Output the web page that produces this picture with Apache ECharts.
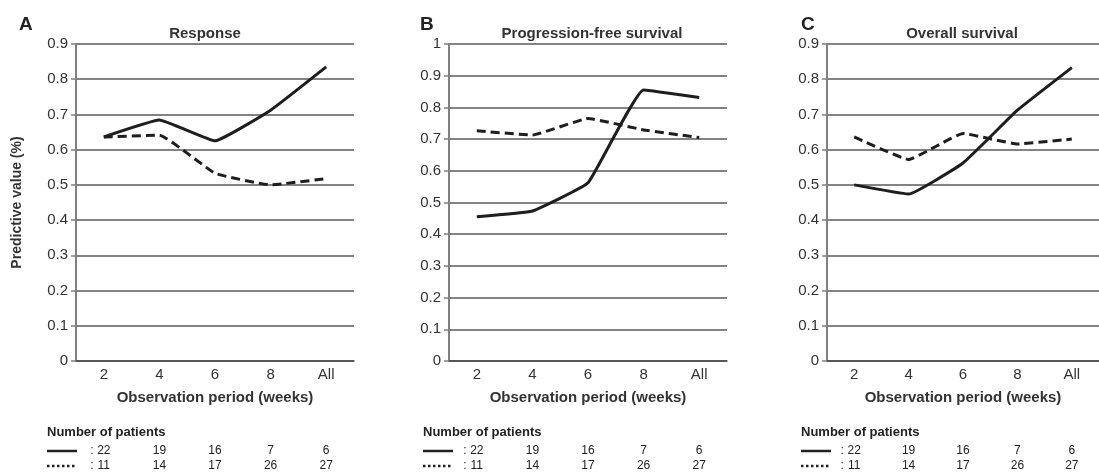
<!DOCTYPE html>
<html><head><meta charset="utf-8">
<script src="https://cdn.jsdelivr.net/npm/echarts@6/dist/echarts.min.js"></script>
<style>html,body{margin:0;padding:0;background:#fff}#c{width:1099px;height:475px}</style>
</head><body><div id="c"></div>
<script>
const categories = ['2', '4', '6', '8', 'All'];
const panelTitles = ['Response', 'Progression-free survival', 'Overall survival'];
const panelLetters = ['A', 'B', 'C'];
const yMax = [0.9, 1, 0.9];
const responseSolid = [0.636, 0.684, 0.625, 0.712, 0.835];
const responseDashed = [0.636, 0.641, 0.533, 0.500, 0.518];
const pfsSolid = [0.455, 0.473, 0.562, 0.855, 0.831];
const pfsDashed = [0.726, 0.713, 0.765, 0.729, 0.705];
const osSolid = [0.500, 0.474, 0.562, 0.712, 0.833];
const osDashed = [0.636, 0.572, 0.646, 0.616, 0.630];
const patientsSolid = [22, 19, 16, 7, 6];
const patientsDashed = [11, 14, 17, 26, 27];

const solidSets = [responseSolid, pfsSolid, osSolid];
const dashedSets = [responseDashed, pfsDashed, osDashed];

const gridLefts = [76, 449, 827];
const gridWidth = 278;
const titleCenters = [200, 587, 957];
const letterLefts = [14, 415, 796];
const tableLefts = [47, 423, 801];
const FONT = '"Liberation Sans", Arial, sans-serif';

const chart = echarts.init(document.getElementById('c'), null, {renderer: 'canvas'});
const grids = [], xAxes = [], yAxes = [], series = [], titles = [];
for (let i = 0; i < 3; i++) {
  const g = {left: gridLefts[i], top: 44, height: 317, containLabel: false};
  if (i === 2) g.right = -7; else g.width = gridWidth;
  grids.push(g);
  xAxes.push({
    type: 'category', gridIndex: i, data: categories, boundaryGap: true,
    axisLine: {show: true, lineStyle: {color: '#4a4a4a', width: 1.5}},
    axisTick: {show: false},
    axisLabel: {color: '#333', fontSize: 15, fontFamily: FONT, margin: 6},
    name: 'Observation period (weeks)', nameLocation: 'middle', nameGap: 29,
    nameTextStyle: {color: '#333', fontSize: 15, fontWeight: 'bold', fontFamily: FONT}
  });
  yAxes.push({
    type: 'value', gridIndex: i, min: 0, max: yMax[i], interval: 0.1,
    axisLine: {show: true, lineStyle: {color: '#808080', width: 2}},
    axisTick: {show: true, length: 5, lineStyle: {color: '#808080', width: 1.5}},
    axisLabel: {color: '#333', fontSize: 15, fontFamily: FONT, margin: 8,
      formatter: v => String(+v.toFixed(1))},
    splitLine: {show: true, lineStyle: {color: '#5a5a5a', width: 1.5}},
    name: i === 0 ? 'Predictive value (%)' : '', nameLocation: 'middle', nameGap: 52,
    nameTextStyle: {color: '#333', fontSize: 14, fontWeight: 'bold', fontFamily: FONT}
  });
  series.push({
    type: 'line', xAxisIndex: i, yAxisIndex: i, data: solidSets[i], symbol: 'none',
    smooth: 0.1, lineStyle: {color: '#1e1e1e', width: 3}, z: 3
  });
  series.push({
    type: 'line', xAxisIndex: i, yAxisIndex: i, data: dashedSets[i], symbol: 'none',
    smooth: 0.1, lineStyle: {color: '#1e1e1e', width: 3, type: [9, 5]}, z: 3
  });
  titles.push({text: panelTitles[i], left: titleCenters[i], top: 21, textAlign: 'center',
    textStyle: {color: '#333', fontSize: 15, fontWeight: 'bold', fontFamily: FONT}});
  titles.push({text: panelLetters[i], left: letterLefts[i], top: 10,
    textStyle: {color: '#222', fontSize: 19, fontWeight: 'bold', fontFamily: FONT}});
}

chart.setOption({
  animation: false,
  backgroundColor: '#fff',
  title: titles,
  grid: grids, xAxis: xAxes, yAxis: yAxes, series: series
});

const graphics = [];
for (let i = 0; i < 3; i++) {
  const L = tableLefts[i];
  graphics.push({type: 'text', left: L, top: 426,
    style: {text: 'Number of patients', fill: '#222', font: 'bold 13px ' + FONT}});
  graphics.push({type: 'line', shape: {x1: L, y1: 451, x2: L + 30, y2: 451},
    style: {stroke: '#222', lineWidth: 2.5}});
  graphics.push({type: 'line', shape: {x1: L, y1: 466, x2: L + 30, y2: 466},
    style: {stroke: '#222', lineWidth: 2.5, lineDash: [2.5, 2.5]}});
  categories.forEach((c, k) => {
    const px = chart.convertToPixel({xAxisIndex: i}, c);
    if (k === 0) {
      [451, 466].forEach(y => graphics.push({type: 'text', x: px - 12, y: y,
        style: {text: ':', fill: '#222', font: '12px ' + FONT, textAlign: 'center', textVerticalAlign: 'middle'}}));
    }
    graphics.push({type: 'text', x: px, y: 451,
      style: {text: String(patientsSolid[k]), fill: '#222', font: '12px ' + FONT, textAlign: 'center', textVerticalAlign: 'middle'}});
    graphics.push({type: 'text', x: px, y: 466,
      style: {text: String(patientsDashed[k]), fill: '#222', font: '12px ' + FONT, textAlign: 'center', textVerticalAlign: 'middle'}});
  });
}
chart.setOption({graphic: graphics});
</script></body></html>
